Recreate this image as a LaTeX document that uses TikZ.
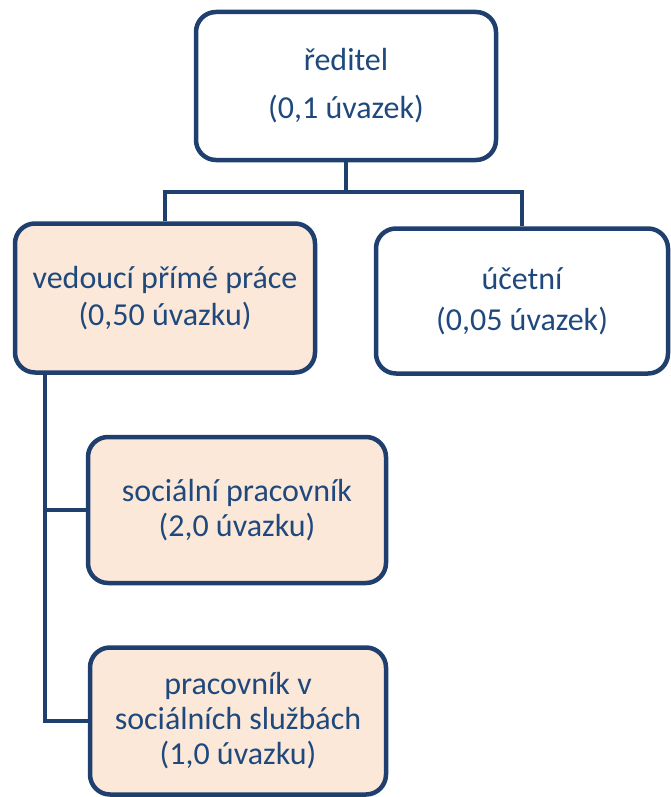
\documentclass[tikz,border=0pt]{standalone}
\usepackage{fontspec}
\setmainfont{Carlito}
\usepackage{tikz}
\usetikzlibrary{positioning}
\definecolor{rambox}{RGB}{31,64,110}
\definecolor{textblue}{RGB}{31,73,125}
\definecolor{peach}{RGB}{252,232,217}

\begin{document}
\begin{tikzpicture}[
                    x=1pt,
                    y=1pt,
                    line width=4pt,
                    rambox,
                    role/.style={draw=rambox, line width=4.5pt, rounded corners=20pt,
                                 align=center, text=textblue, inner sep=0pt,
                                 font=\fontsize{32}{35}\selectfont},
                    staff/.style={role, fill=peach}
                ]
                \useasboundingbox (0,0) rectangle (670,-797);
                \node (R)  [role, minimum width=300pt, minimum height=148pt,
                            font=\fontsize{32}{48}\selectfont]  at (346,-86)
                           {ředitel\\(0,1 úvazek)};
                \node (V)  [staff, minimum width=300pt, minimum height=149pt,
                            font=\fontsize{32}{37}\selectfont]  at (165,-298)
                           {vedoucí přímé práce\\(0,50 úvazku)};
                \node (U)  [role, minimum width=292pt, minimum height=145pt,
                            font=\fontsize{32}{41}\selectfont]  at (522,-301)
                           {účetní\\(0,05 úvazek)};
                \node (SP) [staff, minimum width=298pt, minimum height=146pt]  at (237,-510)
                           {sociální pracovník\\(2,0 úvazku)};
                \node (PS) [staff, minimum width=296pt, minimum height=147pt]  at (238,-721)
                           {pracovník v\\sociálních službách\\(1,0 úvazku)};

                \coordinate (bus)   at (346,-192);
                \coordinate (spine) at ([xshift=-120pt]V.south);

                \draw (R) -- (bus);
                \draw (bus) -| (V);
                \draw (bus) -| (U);
                \draw (spine) |- (SP);
                \draw (spine) |- (PS);
            \end{tikzpicture}
\end{document}
